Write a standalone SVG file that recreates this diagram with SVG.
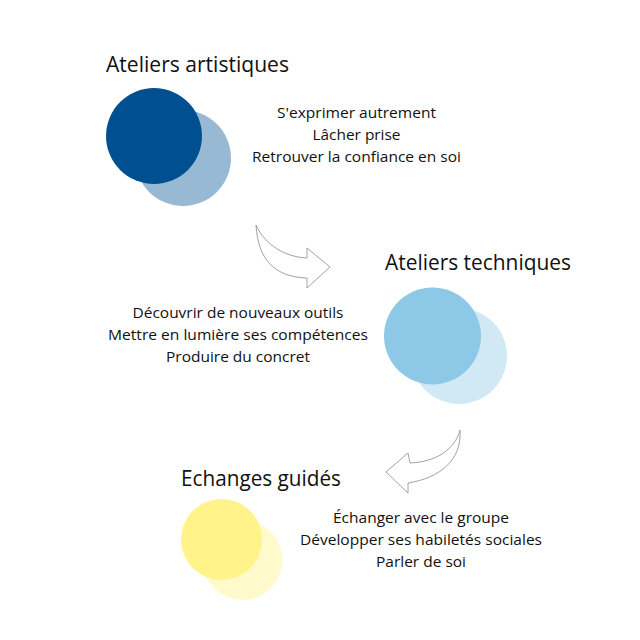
<svg xmlns="http://www.w3.org/2000/svg" width="640" height="640" viewBox="0 0 640 640">
<style>
.t{font-family:"Open Sans","Noto Sans",sans-serif;font-size:21px;fill:#111}
.b{font-family:"Open Sans","Noto Sans",sans-serif;font-size:15px;fill:#111;text-anchor:middle}
.arr{fill:#fff;stroke:#8a8a8a;stroke-width:0.8;stroke-linejoin:miter}
</style>
<rect width="640" height="640" fill="#fff"/>
<g id="connectors">
<path class="arr" d="M256,225 C265,245 285,257 307,258 L307,248 L330,267 L307,288 L307,278 C275,277 258,260 256,225 Z"/>
<path class="arr" d="M460,430 C455,450 435,462 410,463 L408,453 L386,472 L408,493 L408,483 C440,478 462,460 460,430 Z"/>
</g>
<g id="node-artistiques">
<circle cx="183" cy="158" r="48" fill="#98b9d3"/>
<circle cx="154" cy="136" r="48" fill="#005091"/>
<text class="t" x="106" y="72" textLength="183" lengthAdjust="spacingAndGlyphs">Ateliers artistiques</text>
<text class="b" x="356.5" y="118" textLength="159" lengthAdjust="spacingAndGlyphs">S'exprimer autrement</text>
<text class="b" x="356.5" y="140" textLength="88" lengthAdjust="spacingAndGlyphs">Lâcher prise</text>
<text class="b" x="356.5" y="162" textLength="209" lengthAdjust="spacingAndGlyphs">Retrouver la confiance en soi</text>
</g>
<g id="node-techniques">
<circle cx="459" cy="356" r="48" fill="#d1e9f5"/>
<circle cx="432.5" cy="336" r="48.5" fill="#8ec8e7"/>
<text class="t" x="385" y="270" textLength="186" lengthAdjust="spacingAndGlyphs">Ateliers techniques</text>
<text class="b" x="238" y="318" textLength="211" lengthAdjust="spacingAndGlyphs">Découvrir de nouveaux outils</text>
<text class="b" x="238" y="340" textLength="260" lengthAdjust="spacingAndGlyphs">Mettre en lumière ses compétences</text>
<text class="b" x="238" y="362" textLength="144" lengthAdjust="spacingAndGlyphs">Produire du concret</text>
</g>
<g id="node-echanges">
<circle cx="242.5" cy="560" r="40" fill="#fffacc"/>
<circle cx="221.5" cy="539.5" r="40.5" fill="#fff38a"/>
<text class="t" x="181" y="486" textLength="160" lengthAdjust="spacingAndGlyphs">Echanges guidés</text>
<text class="b" x="421" y="523" textLength="176" lengthAdjust="spacingAndGlyphs">Échanger avec le groupe</text>
<text class="b" x="421" y="545" textLength="242" lengthAdjust="spacingAndGlyphs">Développer ses habiletés sociales</text>
<text class="b" x="421" y="567" textLength="90" lengthAdjust="spacingAndGlyphs">Parler de soi</text>
</g>
</svg>
